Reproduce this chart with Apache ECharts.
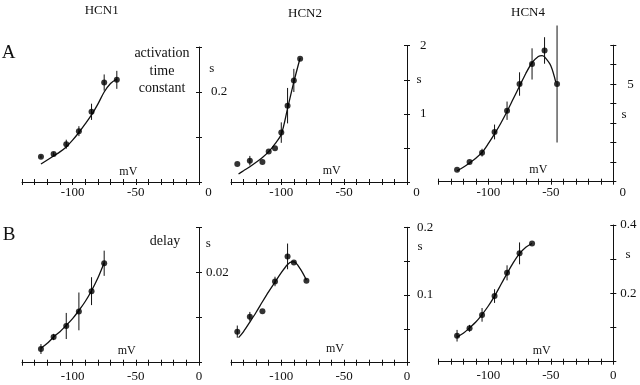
<!DOCTYPE html>
<html>
<head>
<meta charset="utf-8">
<script src="https://cdn.jsdelivr.net/npm/echarts@6/dist/echarts.min.js"></script>
<style>html,body{margin:0;padding:0;background:#fff}#c{width:640px;height:385px}</style>
</head>
<body>
<div id="c"></div>
<script>
// ---------- DATA ----------
const channels = ['HCN1', 'HCN2', 'HCN4'];
const xTickLabels = [-100, -50, 0];

// A: activation time constant (s)
const a1_mV   = [-125, -115, -105, -95, -85, -75, -65];
const a1_val  = [0.056, 0.062, 0.084, 0.113, 0.156, 0.221, 0.227];
const a1_err  = [0.003, 0.004, 0.010, 0.011, 0.018, 0.018, 0.020];
const a1_fitX = [-125, -120, -115, -110, -105, -100, -95, -90, -85, -80, -75, -70, -65];
const a1_fitY = [0.040, 0.049, 0.058, 0.067, 0.078, 0.093, 0.110, 0.129, 0.149, 0.173, 0.200, 0.219, 0.229];

const a2_mV   = [-135, -125, -115, -110, -105, -100, -95, -90, -85];
const a2_val  = [0.265, 0.313, 0.294, 0.446, 0.496, 0.725, 1.12, 1.49, 1.81];
const a2_err  = [0, 0.07, 0, 0, 0, 0.15, 0.26, 0.17, 0];
const a2_fitX = [-134, -130, -125, -120, -115, -110, -105, -100, -95, -90, -85];
const a2_fitY = [0.118, 0.166, 0.225, 0.29, 0.36, 0.446, 0.56, 0.70, 1.08, 1.47, 1.82];

const a3_mV   = [-125, -115, -105, -95, -85, -75, -65, -55, -45];
const a3_val  = [0.615, 1.01, 1.49, 2.55, 3.64, 5.01, 6.04, 6.73, 5.01];
const a3_err  = [0, 0, 0.2, 0.38, 0.47, 0.6, 0.8, 0.68, 3.0];
const a3_fitX = [-125, -120, -115, -110, -105, -100, -95, -90, -85, -80, -75, -70, -65, -60, -57, -55, -50, -46];
const a3_fitY = [0.56, 0.74, 0.96, 1.2, 1.5, 1.95, 2.45, 3.0, 3.6, 4.25, 4.9, 5.55, 6.1, 6.42, 6.47, 6.4, 5.95, 5.1];

// B: delay (s)
const b1_mV   = [-125, -115, -105, -95, -85, -75];
const b1_val  = [0.00304, 0.00571, 0.00816, 0.0114, 0.0159, 0.0221];
const b1_err  = [0.0011, 0.0007, 0.0029, 0.0042, 0.0031, 0.0028];
const b1_fitX = [-125, -120, -115, -110, -105, -100, -95, -90, -85, -80, -75];
const b1_fitY = [0.0032, 0.0043, 0.0057, 0.0069, 0.0083, 0.0098, 0.0116, 0.0136, 0.0160, 0.0188, 0.0222];

const b2_mV   = [-135, -125, -115, -105, -95, -90, -80];
const b2_val  = [0.0459, 0.068, 0.076, 0.120, 0.157, 0.148, 0.121];
const b2_err  = [0.009, 0.007, 0, 0.007, 0.019, 0, 0];
const b2_fitX = [-134, -130, -125, -120, -115, -110, -105, -100, -95, -92, -90, -85, -80];
const b2_fitY = [0.037, 0.046, 0.060, 0.0745, 0.090, 0.105, 0.119, 0.133, 0.145, 0.149, 0.149, 0.139, 0.122];

const b3_mV   = [-125, -115, -105, -95, -85, -75, -65];
const b3_val  = [0.076, 0.0977, 0.137, 0.192, 0.260, 0.317, 0.346];
const b3_err  = [0.017, 0.010, 0.020, 0.020, 0.022, 0.032, 0];
const b3_fitX = [-125, -120, -115, -110, -105, -100, -95, -90, -85, -80, -75, -70, -65];
const b3_fitY = [0.072, 0.083, 0.099, 0.116, 0.138, 0.163, 0.192, 0.225, 0.258, 0.290, 0.316, 0.335, 0.346];

// y-axis scales and shown tick labels
const yMax      = [0.3, 2, 7, 0.03, 0.2, 0.4];
const yInterval = [0.1, 0.5, 1, 0.01, 0.05, 0.1];
const yLabels   = [[0.2], [1, 2], [5], [0.02], [0.1, 0.2], [0.2, 0.4]];

// ---------- LAYOUT ----------
const FONT = "'Liberation Serif','DejaVu Serif',serif";
const grids = [
  {left: 22,    width: 177, top: 47,    height: 135},
  {left: 231,   width: 176, top: 45.7,  height: 136.3},
  {left: 438.3, width: 175, top: 45.2,  height: 136.5},
  {left: 22,    width: 177, top: 227.7, height: 135},
  {left: 231,   width: 176, top: 227.3, height: 135.4},
  {left: 438.3, width: 175, top: 225,   height: 136.7}
];
const yMargin = [12, 13, 14, 7, 10, 7];
const panels = [
  [a1_mV, a1_val, a1_err, a1_fitX, a1_fitY],
  [a2_mV, a2_val, a2_err, a2_fitX, a2_fitY],
  [a3_mV, a3_val, a3_err, a3_fitX, a3_fitY],
  [b1_mV, b1_val, b1_err, b1_fitX, b1_fitY],
  [b2_mV, b2_val, b2_err, b2_fitX, b2_fitY],
  [b3_mV, b3_val, b3_err, b3_fitX, b3_fitY]
];

const xAxes = [], yAxes = [], series = [];
const lineStyle = {color: '#111', width: 1};
panels.forEach((p, i) => {
  const isA = i < 3;
  // primary x axis
  xAxes.push({
    gridIndex: i, type: 'value', position: 'bottom', min: -140, max: 0, interval: 10,
    axisLine: {show: true, lineStyle: lineStyle, onZero: false},
    axisTick: {show: true, inside: false, length: 3, lineStyle: lineStyle},
    splitLine: {show: false},
    axisLabel: {
      show: true, margin: isA ? 4 : 7, color: '#111', fontFamily: FONT, fontSize: 13,
      formatter: v => {
        if (!xTickLabels.includes(v)) return '';
        if (v === 0 && isA) return '{z|0}';
        return String(v);
      },
      rich: {z: {fontFamily: FONT, fontSize: 13, color: '#111', padding: [0, 0, 0, 19]}}
    }
  });
  // secondary x axis (inner half of crossing ticks)
  xAxes.push({
    gridIndex: i, type: 'value', position: 'bottom', offset: 0, min: -140, max: 0, interval: 10,
    axisLine: {show: false}, axisLabel: {show: false}, splitLine: {show: false},
    axisTick: {show: true, inside: true, length: 3, lineStyle: lineStyle}
  });
  const labs = yLabels[i];
  yAxes.push({
    gridIndex: i, type: 'value', position: 'right', min: 0, max: yMax[i], interval: yInterval[i],
    axisLine: {show: true, lineStyle: lineStyle, onZero: false},
    axisTick: {show: true, inside: false, length: 3, lineStyle: lineStyle},
    splitLine: {show: false},
    axisLabel: {
      show: true, margin: yMargin[i], color: '#111', fontFamily: FONT, fontSize: 13,
      formatter: v => labs.some(l => Math.abs(l - v) < 1e-9) ? String(v) : ''
    }
  });
  yAxes.push({
    gridIndex: i, type: 'value', position: 'right', offset: 0, min: 0, max: yMax[i], interval: yInterval[i],
    axisLine: {show: false}, axisLabel: {show: false}, splitLine: {show: false},
    axisTick: {show: true, inside: true, length: 3, lineStyle: lineStyle}
  });
  const [mv, val, err, fx, fy] = p;
  series.push({
    type: 'line', xAxisIndex: 2 * i, yAxisIndex: 2 * i, smooth: 0.3, showSymbol: false, silent: true,
    lineStyle: {color: '#111', width: 1.3}, data: fx.map((x, k) => [x, fy[k]]), z: 2
  });
  series.push({
    type: 'custom', xAxisIndex: 2 * i, yAxisIndex: 2 * i, clip: false, silent: true,
    data: mv.map((x, k) => [x, val[k], err[k]]),
    renderItem: (params, api) => {
      const x = api.value(0), y = api.value(1), e = api.value(2);
      if (!e) return null;
      const p1 = api.coord([x, y - e]), p2 = api.coord([x, y + e]);
      return {type: 'line', shape: {x1: p1[0], y1: p1[1], x2: p2[0], y2: p2[1]},
              style: {stroke: '#111', lineWidth: 1}};
    }, z: 3
  });
  series.push({
    type: 'scatter', xAxisIndex: 2 * i, yAxisIndex: 2 * i, symbol: 'circle', symbolSize: 6, silent: true,
    itemStyle: {color: '#000'}, data: mv.map((x, k) => [x, val[k]]), z: 4
  });
});

function txt(text, x, y, size, extra) {
  return Object.assign({
    type: 'text', x: x, y: y,
    style: {text: text, fill: '#111', font: size + 'px ' + FONT, textAlign: 'center', textVerticalAlign: 'middle'}
  }, extra || {});
}
const graphics = [
  txt(channels[0], 101.7, 11, 13),
  txt(channels[1], 305, 14, 13),
  txt(channels[2], 528, 13, 13),
  txt('A', 8.5, 53, 19),
  txt('B', 9, 235, 19),
  {type: 'text', x: 162, y: 53.5, style: {text: 'activation\ntime\nconstant', fill: '#111', font: '14px ' + FONT,
    textAlign: 'center', textVerticalAlign: 'middle', lineHeight: 17.5}},
  txt('delay', 165, 241.5, 14),
  txt('s', 211.7, 68.3, 13), txt('s', 419, 79.3, 13), txt('s', 624, 115, 13),
  txt('s', 208.3, 243.3, 13), txt('s', 420, 246.7, 13), txt('s', 628, 255, 13),
  txt('mV', 128.3, 171.7, 12), txt('mV', 331.7, 170.7, 12), txt('mV', 538.3, 170, 12),
  txt('mV', 126.7, 350.7, 12), txt('mV', 335, 349.3, 12), txt('mV', 541.7, 350.7, 12)
];
// fix the multi-line label to start at its top
graphics[5].style.textVerticalAlign = 'top';
graphics[5].y = 45;

const chart = echarts.init(document.getElementById('c'), null, {renderer: 'canvas'});
chart.setOption({
  animation: false,
  backgroundColor: '#fff',
  grid: grids,
  xAxis: xAxes,
  yAxis: yAxes,
  series: series,
  graphic: graphics
});
</script>
</body>
</html>
